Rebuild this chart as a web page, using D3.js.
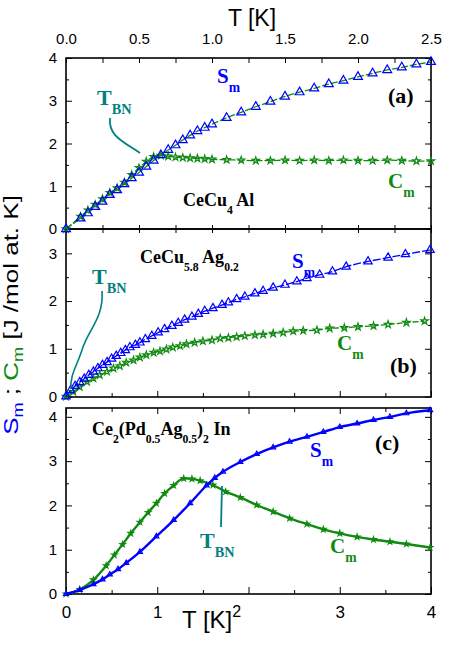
<!DOCTYPE html>
<head>
<meta charset="utf-8">
<title>Sm ; Cm</title>
<style>
	body { margin: 0; background: #fff; }
	svg { display: block; }
	.tick text, .lab { font-family: 'Liberation Sans', Arial, sans-serif; fill: #000; }
	.ann { font-family: 'Liberation Serif', 'Times New Roman', serif; font-weight: bold; }
</style>
</head>
<body>
<script src="https://d3js.org/d3.v7.min.js"></script>
<script>

// (a) CeCu4Al, T in K
var tA = [0, 0.1, 0.15, 0.2, 0.25, 0.3, 0.35, 0.4, 0.45, 0.5, 0.55, 0.6, 0.65, 0.7, 0.75, 0.8, 0.85, 0.9, 0.95, 1.0,
          1.1, 1.2, 1.3, 1.4, 1.5, 1.6, 1.7, 1.8, 1.9, 2.0, 2.1, 2.2, 2.3, 2.4, 2.5];
var sA = [0, 0.25, 0.37, 0.52, 0.64, 0.80, 0.91, 1.05, 1.19, 1.32, 1.46, 1.60, 1.73, 1.85, 1.96, 2.08, 2.19, 2.29, 2.37, 2.45,
          2.60, 2.73, 2.86, 2.98, 3.10, 3.20, 3.29, 3.39, 3.47, 3.56, 3.64, 3.72, 3.78, 3.85, 3.91];
var cA = [0, 0.29, 0.44, 0.57, 0.70, 0.85, 0.96, 1.09, 1.27, 1.43, 1.58, 1.69, 1.72, 1.70, 1.68, 1.67, 1.66, 1.65, 1.64, 1.63,
          1.62, 1.61, 1.60, 1.60, 1.61, 1.60, 1.61, 1.60, 1.61, 1.60, 1.60, 1.61, 1.60, 1.59, 1.59];

// (b) CeCu5.8Ag0.2
var tBs = [0, 0.05, 0.1, 0.15, 0.2, 0.25, 0.3, 0.35, 0.4, 0.45, 0.5, 0.55, 0.6, 0.65, 0.70, 0.76, 0.81, 0.87, 0.94, 1.01,
           1.08, 1.16, 1.23, 1.30, 1.38, 1.45, 1.52, 1.61, 1.71, 1.78, 1.87, 1.96, 2.07, 2.16, 2.27, 2.40, 2.53, 2.64, 2.78, 2.92,
           3.07, 3.31, 3.53, 3.72, 3.99];
var sB = [0, 0.13, 0.22, 0.30, 0.37, 0.45, 0.52, 0.59, 0.66, 0.72, 0.79, 0.85, 0.91, 0.97, 1.03, 1.08, 1.13, 1.20, 1.27, 1.34,
          1.41, 1.48, 1.54, 1.61, 1.67, 1.73, 1.79, 1.85, 1.92, 1.97, 2.04, 2.09, 2.16, 2.21, 2.28, 2.34, 2.41, 2.48, 2.55, 2.62,
          2.72, 2.83, 2.91, 2.98, 3.07];
var tBc = [0, 0.08, 0.15, 0.23, 0.30, 0.37, 0.45, 0.52, 0.59, 0.66, 0.74, 0.81, 0.88, 0.96, 1.03, 1.10, 1.17, 1.25, 1.32, 1.41,
           1.50, 1.60, 1.69, 1.78, 1.87, 1.96, 2.07, 2.16, 2.27, 2.38, 2.49, 2.60, 2.75, 2.89, 3.05, 3.20, 3.37, 3.53, 3.73, 3.93];
var cB = [0, 0.10, 0.20, 0.31, 0.38, 0.45, 0.52, 0.59, 0.64, 0.71, 0.76, 0.82, 0.87, 0.92, 0.95, 0.99, 1.03, 1.06, 1.10, 1.13,
          1.16, 1.18, 1.22, 1.23, 1.25, 1.27, 1.29, 1.30, 1.32, 1.34, 1.37, 1.38, 1.39, 1.43, 1.44, 1.46, 1.48, 1.51, 1.55, 1.58];

// (c) Ce2(Pd0.5Ag0.5)2In
var tCs = [0, 0.15, 0.30, 0.40, 0.48, 0.57, 0.66, 0.81, 0.99, 1.18, 1.36, 1.54, 1.63, 1.72, 1.91, 2.09, 2.27, 2.45, 2.64, 2.82,
           3.00, 3.19, 3.37, 3.55, 3.73, 3.99];
var sC = [0, 0.09, 0.22, 0.33, 0.44, 0.56, 0.70, 0.95, 1.30, 1.67, 2.05, 2.45, 2.62, 2.76, 2.98, 3.16, 3.31, 3.44, 3.55, 3.66,
          3.77, 3.85, 3.93, 4.00, 4.08, 4.15];
var tCc = [0, 0.15, 0.30, 0.44, 0.53, 0.62, 0.71, 0.81, 0.90, 0.99, 1.08, 1.18, 1.29, 1.38, 1.47, 1.61, 1.75, 1.91, 2.09, 2.27,
           2.45, 2.64, 2.82, 3.00, 3.19, 3.37, 3.55, 3.73, 3.99];
var cC = [0, 0.10, 0.32, 0.64, 0.88, 1.12, 1.37, 1.62, 1.84, 2.05, 2.27, 2.45, 2.61, 2.60, 2.56, 2.46, 2.31, 2.18, 2.01, 1.86,
          1.71, 1.58, 1.46, 1.37, 1.29, 1.23, 1.18, 1.13, 1.05];

var topTicks = [0, 0.25, 0.5, 0.75, 1, 1.25, 1.5, 1.75, 2, 2.25, 2.5];
var botTicks = [0, 0.5, 1, 1.5, 2, 2.5, 3, 3.5, 4];
var botLabels = {0: "0", 1: "1", 3: "3", 4: "4"};

var blue = "#0000ff", green = "#108a10", teal = "#008080";

var width = 460, height = 651;
var svg = d3.select("body").append("svg").attr("width", width).attr("height", height);

var xA = d3.scaleLinear().domain([0, 2.5]).range([66, 431]);
var xT = d3.scaleLinear().domain([0, 4]).range([66, 431]);
var yA = d3.scaleLinear().domain([0, 4]).range([229, 58]);
var yB = d3.scaleLinear().domain([0, 3.5]).range([396.5, 229.5]);
var yC = d3.scaleLinear().domain([0, 4.2]).range([594, 408]);

function isInt(d) { return Math.abs(d - Math.round(d)) < 1e-6; }

// left + right ticks of a panel
function yAxes(y, vals) {
	var gl = svg.append("g").attr("transform", "translate(66,0)")
		.call(d3.axisLeft(y).tickValues(vals).tickSize(-6).tickSizeOuter(0).tickPadding(9)
			.tickFormat(function(d) { return isInt(d) ? d : ""; }));
	gl.select(".domain").remove();
	gl.selectAll(".tick line").attr("x2", function(d) { return isInt(d) ? 6 : 3; });
	gl.selectAll(".tick text").style("font-size", "15px");
	var gr = svg.append("g").attr("transform", "translate(431,0)")
		.call(d3.axisRight(y).tickValues(vals).tickSize(-6).tickSizeOuter(0).tickFormat(""));
	gr.select(".domain").remove();
	gr.selectAll(".tick line").attr("x2", function(d) { return isInt(d) ? -6 : -3; });
}

yAxes(yA, [0, 0.5, 1, 1.5, 2, 2.5, 3, 3.5, 4]);
yAxes(yB, [0, 0.5, 1, 1.5, 2, 2.5, 3]);
yAxes(yC, [0, 0.5, 1, 1.5, 2, 2.5, 3, 3.5, 4]);

// top axis, T [K]
var gt = svg.append("g").attr("transform", "translate(0,58)")
	.call(d3.axisTop(xA).tickValues(topTicks).tickSize(-5).tickSizeOuter(0).tickPadding(14)
		.tickFormat(function(d) { return (d * 2) % 1 == 0 ? d3.format(".1f")(d) : ""; }));
gt.select(".domain").remove();
gt.selectAll(".tick text").style("font-size", "15px");

// ticks on the line between (a) and (b)
var gm = svg.append("g").attr("transform", "translate(0,229)")
	.call(d3.axisBottom(xA).tickValues(topTicks).tickSize(4).tickSizeOuter(0).tickFormat(""));
gm.select(".domain").remove();
gm.selectAll(".tick line").attr("y1", -4);

// bottom of (b), top of (c)
var gb = svg.append("g").attr("transform", "translate(0,397)")
	.call(d3.axisBottom(xT).tickValues(botTicks).tickSize(-6).tickSizeOuter(0).tickFormat(""));
gb.select(".domain").remove();
gb.selectAll(".tick line").attr("y2", function(d) { return isInt(d) ? -6 : -4; });
var gc = svg.append("g").attr("transform", "translate(0,408)")
	.call(d3.axisTop(xT).tickValues(botTicks).tickSize(-6).tickSizeOuter(0).tickFormat(""));
gc.select(".domain").remove();
gc.selectAll(".tick line").attr("y2", function(d) { return isInt(d) ? 6 : 4; });

// bottom axis of (c)
var gx = svg.append("g").attr("transform", "translate(0,594)")
	.call(d3.axisBottom(xT).tickValues(botTicks).tickSize(-7).tickSizeOuter(0).tickPadding(12)
		.tickFormat(function(d) { return botLabels[d] || ""; }));
gx.select(".domain").remove();
gx.selectAll(".tick line").attr("y2", function(d) { return isInt(d) ? -7 : -4; });
gx.selectAll(".tick text").style("font-size", "17px");

// frames
[[58, 229], [229, 397], [408, 594]].forEach(function(f) {
	svg.append("rect").attr("x", 66).attr("y", f[0]).attr("width", 365).attr("height", f[1] - f[0])
		.attr("fill", "none").attr("stroke", "#000").attr("stroke-width", 1.6);
});

function series(x, y, ts, vs, color, lineColor, dash, type, size, lw) {
	var pts = ts.map(function(t, i) { return [t, vs[i]]; });
	var g = svg.append("g");
	g.append("path").datum(pts)
		.attr("fill", "none").attr("stroke", lineColor).attr("stroke-width", lw)
		.attr("stroke-dasharray", dash)
		.attr("d", d3.line().x(function(d) { return x(d[0]); }).y(function(d) { return y(d[1]); })
			.curve(d3.curveMonotoneX));
	g.selectAll("path.m").data(pts).enter().append("path").attr("class", "m")
		.attr("transform", function(d) { return "translate(" + x(d[0]) + "," + y(d[1]) + ")"; })
		.attr("d", d3.symbol().type(type).size(size))
		.attr("fill", "none").attr("stroke", color).attr("stroke-width", 1.2);
}

series(xA, yA, tA, cA, green, green, "7,2", d3.symbolStar, 16, 1.3);
series(xA, yA, tA, sA, blue, green, "7,2", d3.symbolTriangle, 34, 1.3);
series(xT, yB, tBc, cB, green, green, "6,2", d3.symbolStar, 16, 1.3);
series(xT, yB, tBs, sB, blue, blue, "8,2", d3.symbolTriangle, 30, 1.3);
series(xT, yC, tCc, cC, green, green, null, d3.symbolStar, 9, 2.4);
series(xT, yC, tCs, sC, blue, blue, null, d3.symbolTriangle, 11, 2.4);

// text with subscripts: parts = [[text, sub?], ...]
function label(x, y, parts, color, size, cls) {
	var t = svg.append("text").attr("class", cls || "ann").attr("x", x).attr("y", y)
		.attr("fill", color).style("font-size", size + "px");
	var down = false;
	parts.forEach(function(p) {
		var sub = p[1];
		var dy = sub && !down ? size * 0.42 : (!sub && down ? -size * 0.42 : 0);
		down = !!sub;
		t.append("tspan").attr("dy", dy).style("font-size", (sub ? size * 0.65 : size) + "px").text(p[0]);
	});
	return t;
}

// panel (a)
label(217, 83, [["S"], ["m", 1]], blue, 21);
label(388, 188, [["C"], ["m", 1]], green, 21);
label(388, 103, [["(a)"]], "#000", 22);
label(97, 105, [["T"], ["BN", 1]], teal, 22);
label(183, 206, [["CeCu"], ["4", 1], [" Al"]], "#000", 18);
svg.append("path").attr("d", "M110,118 C108,136 124,142 140,153")
	.attr("fill", "none").attr("stroke", teal).attr("stroke-width", 1.8);

// panel (b)
label(140, 263, [["CeCu"], ["5.8", 1], [" Ag"], ["0.2", 1]], "#000", 18);
label(292, 268, [["S"], ["m", 1]], blue, 21);
label(337, 350, [["C"], ["m", 1]], green, 21);
label(390, 373, [["(b)"]], "#000", 22);
label(92, 284, [["T"], ["BN", 1]], teal, 22);
svg.append("path").attr("d", "M102,291 C104,318 88,330 82,350 C76,368 70,375 71,389")
	.attr("fill", "none").attr("stroke", teal).attr("stroke-width", 1.6);

// panel (c)
label(92, 435, [["Ce"], ["2", 1], ["(Pd"], ["0.5", 1], ["Ag"], ["0.5", 1], [")"], ["2", 1], [" In"]], "#000", 18);
label(310, 457, [["S"], ["m", 1]], blue, 21);
label(330, 553, [["C"], ["m", 1]], green, 21);
label(375, 450, [["(c)"]], "#000", 22);
label(200, 548, [["T"], ["BN", 1]], teal, 22);
svg.append("path").attr("d", "M222,486 L221,527")
	.attr("fill", "none").attr("stroke", teal).attr("stroke-width", 1.8);

// axis titles
svg.append("text").attr("class", "lab").attr("x", 252).attr("y", 26)
	.attr("text-anchor", "middle").style("font-size", "23px").text("T  [K]");
var bt = svg.append("text").attr("class", "lab").attr("x", 182).attr("y", 628).style("font-size", "24px");
bt.append("tspan").text("T  [K]");
bt.append("tspan").attr("dy", -11).style("font-size", "16px").text("2");

var yl = svg.append("text").attr("class", "lab").attr("text-anchor", "middle")
	.attr("transform", "translate(18,315) rotate(-90) scale(1.3,1)").style("font-size", "20px");
yl.append("tspan").attr("fill", blue).text("S");
yl.append("tspan").attr("fill", blue).attr("dy", 5).style("font-size", "14px").text("m");
yl.append("tspan").attr("dy", -5).text(" ; ");
yl.append("tspan").attr("fill", green).text("C");
yl.append("tspan").attr("fill", green).attr("dy", 5).style("font-size", "14px").text("m");
yl.append("tspan").attr("dy", -5).text("  [J /mol at. K]");

</script>
</body>
</html>
